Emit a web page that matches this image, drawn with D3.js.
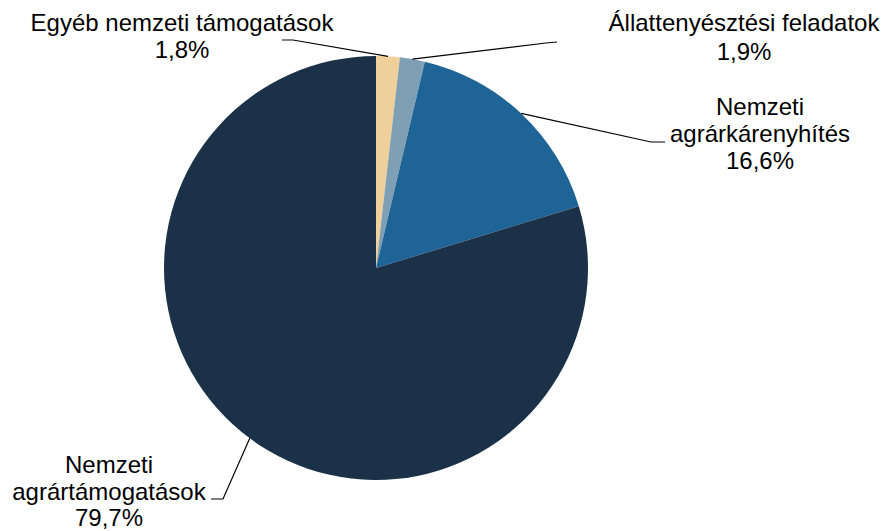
<!DOCTYPE html>
<html><head><meta charset="utf-8">
<script src="https://cdn.jsdelivr.net/npm/d3@7"></script>
<style>body{margin:0;background:#fff}svg{display:block}</style>
</head><body><svg id="c" width="884" height="531"></svg>
<script>
const categories = ["Egyéb nemzeti támogatások", "Állattenyésztési feladatok", "Nemzeti agrárkárenyhítés", "Nemzeti agrártámogatások"];
const labelLines = [["Egyéb nemzeti támogatások"], ["Állattenyésztési feladatok"], ["Nemzeti", "agrárkárenyhítés"], ["Nemzeti", "agrártámogatások"]];
const values = [1.8, 1.9, 16.6, 79.7];
const colors = ["#F0D09A", "#7F9FB4", "#1F6496", "#1B3147"];

// layout (not data)
const cx = 376, cy = 268, R = 212;
const labelAnchors = [[182, 31, 27], [744, 31, 29], [760, 115, 27], [109, 473, 26.5]];
const leaderPts = [
  [[282, 40], [293, 40]],
  [[557, 42], [546, 43]],
  [[665, 142], [651, 142]],
  [[211, 499], [223, 499]]
];

const svg = d3.select("#c");
const g = svg.append("g").attr("transform", `translate(${cx},${cy})`);
const pie = d3.pie().sort(null).value(d => d)(values);
const arc = d3.arc().innerRadius(0).outerRadius(R);
g.selectAll("path.s").data(pie).join("path").attr("class", "s")
  .attr("d", arc).attr("fill", (d, i) => colors[i]);

const fmt = v => d3.format(".1f")(v).replace(".", ",") + "%";

pie.forEach((d, i) => {
  const a = (d.startAngle + d.endAngle) / 2;
  const px = cx + R * Math.sin(a), py = cy - R * Math.cos(a);
  const [p0, p1] = leaderPts[i];
  svg.append("polyline")
    .attr("points", [[p0[0], p0[1]], [p1[0], p1[1]], [px, py]].map(p => p.join(",")).join(" "))
    .attr("fill", "none").attr("stroke", "#000").attr("stroke-width", 1.2);
  const [lx, ly, lh] = labelAnchors[i];
  const lines = labelLines[i].concat([fmt(values[i])]);
  const t = svg.append("text").attr("text-anchor", "middle")
    .attr("font-family", "Liberation Sans, Arial, sans-serif").attr("font-size", 24).attr("fill", "#000");
  lines.forEach((s, j) => t.append("tspan").attr("x", lx).attr("y", ly + j * lh).text(s));
});
</script></body></html>
